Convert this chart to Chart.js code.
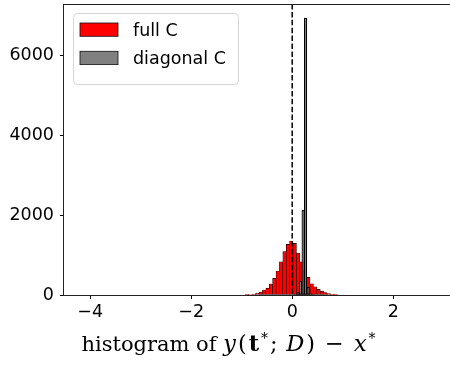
<!DOCTYPE html>
<html>
<head>
<meta charset="utf-8">
<script src="https://cdn.jsdelivr.net/npm/chart.js@4.4.0/dist/chart.umd.min.js"></script>
<style>
html, body { margin: 0; padding: 0; background: #fff; }
#wrap { position: relative; width: 450px; height: 369px; overflow: hidden; }
#myChart { position: absolute; left: 0; top: 0; }
#caption {
    position: absolute; left: 0; top: 331px; width: 459px;
    text-align: center; line-height: 24px; white-space: nowrap;
    font-family: "DejaVu Serif", "Liberation Serif", serif; font-size: 21px; color: #000;
}
#caption .math { font-size: 22.5px; letter-spacing: 2px; }
#caption .op { margin: 0 8px; }
#caption sup { font-size: 14px; vertical-align: 8px; line-height: 0; }
</style>
</head>
<body>
<div id="wrap">
    <canvas id="myChart" width="460" height="369"></canvas>
    <div id="caption">histogram of <span class="math"><i>y</i>(<b>t</b><sup>*</sup>;&#8201;<i>D</i>)<span class="op">&minus;</span><i>x</i><sup>*</sup></span></div>
</div>
<script>
// tick labels
const xTicks = [-4, -2, 0, 2];
const yTicks = [0, 2000, 4000, 6000];
const xRange = [-4.518, 3.164];
const yRange = [0, 7275];
const refValue = 0;

// full C histogram: bin centres and counts
const fullCenters = [-0.892, -0.825, -0.757, -0.690, -0.623, -0.555, -0.488, -0.421, -0.354,
    -0.286, -0.219, -0.152, -0.084, -0.017, 0.050, 0.118, 0.185, 0.252, 0.320, 0.387,
    0.454, 0.522, 0.589, 0.656, 0.724, 0.791, 0.858];
const fullCounts = [5, 12, 25, 45, 75, 125, 170, 275, 415,
    600, 830, 1085, 1265, 1350, 1290, 1050, 830, 620, 440, 280,
    205, 140, 95, 60, 35, 18, 7];

// diagonal C histogram: bin centres and counts
const diagCenters = [0.066, 0.116, 0.166, 0.216, 0.265, 0.315, 0.365, 0.415];
const diagCounts = [10, 60, 350, 2125, 6925, 200, 30, 5];

const toPoints = (xs, ys) => xs.map((x, i) => ({ x: x, y: ys[i] }));
const minusLabel = v => v < 0 ? '\u2212' + Math.abs(v) : String(v);
const noPad = s => { s.paddingTop = 0; s.paddingBottom = 0; s.paddingLeft = 0; s.paddingRight = 0; };

Chart.defaults.font.family = '"DejaVu Sans", sans-serif';
Chart.defaults.color = '#000';

// frame + dashed reference line
const framePlugin = {
    id: 'framePlugin',
    afterDatasetsDraw(chart) {
        const ctx = chart.ctx, a = chart.chartArea;
        const px = chart.scales.x.getPixelForValue(refValue);
        ctx.save();
        ctx.strokeStyle = '#000';
        ctx.lineWidth = 1.5;
        ctx.setLineDash([5.5, 2.4]);
        ctx.beginPath();
        ctx.moveTo(px, a.top);
        ctx.lineTo(px, a.bottom);
        ctx.stroke();
        ctx.setLineDash([]);
        ctx.strokeStyle = '#222';
        ctx.lineWidth = 1;
        ctx.strokeRect(a.left - 0.5, a.top + 0.5, a.right - a.left, a.bottom - a.top);
        ctx.restore();
    }
};

// matplotlib style legend inside the axes
const legendBox = {
    id: 'legendBox',
    afterDraw(chart) {
        const ctx = chart.ctx, a = chart.chartArea;
        const x0 = a.left + 9, y0 = a.top + 9, w = 165, h = 71;
        ctx.save();
        ctx.beginPath();
        ctx.roundRect(x0 + 0.5, y0 + 0.5, w, h, 4);
        ctx.fillStyle = 'rgba(255,255,255,0.8)';
        ctx.fill();
        ctx.strokeStyle = '#d6d6d6';
        ctx.lineWidth = 1;
        ctx.stroke();
        chart.data.datasets.forEach((ds, i) => {
            const py = y0 + 10 + i * 28.3;
            ctx.fillStyle = ds.backgroundColor;
            ctx.fillRect(x0 + 7, py, 38, 13.3);
            ctx.strokeStyle = '#111';
            ctx.lineWidth = 0.8;
            ctx.strokeRect(x0 + 7, py, 38, 13.3);
            ctx.fillStyle = '#000';
            ctx.font = '17.5px "DejaVu Sans"';
            ctx.textBaseline = 'alphabetic';
            ctx.fillText(ds.label, x0 + 60, py + 13);
        });
        ctx.restore();
    }
};

const ctx = document.getElementById('myChart').getContext('2d');
const myChart = new Chart(ctx, {
    type: 'bar',
    data: {
        datasets: [{
            label: 'full C',
            data: toPoints(fullCenters, fullCounts),
            xAxisID: 'x',
            backgroundColor: '#ff0000',
            borderColor: '#000',
            borderWidth: 0.6,
            borderSkipped: false,
            order: 1
        }, {
            label: 'diagonal C',
            data: toPoints(diagCenters, diagCounts),
            xAxisID: 'x2',
            backgroundColor: '#808080',
            borderColor: '#000',
            borderWidth: 1.1,
            borderSkipped: false,
            order: 0
        }]
    },
    options: {
        responsive: false,
        animation: false,
        devicePixelRatio: 1,
        layout: { padding: { top: 4, right: 8, left: 0, bottom: 0 } },
        datasets: {
            bar: { barPercentage: 1, categoryPercentage: 1, grouped: false }
        },
        plugins: {
            legend: { display: false },
            tooltip: { enabled: false }
        },
        scales: {
            x: {
                type: 'linear',
                min: xRange[0],
                max: xRange[1],
                offset: false,
                afterBuildTicks: s => { s.ticks = xTicks.map(v => ({ value: v })); },
                afterFit: s => { s.height = 74; noPad(s); },
                ticks: { callback: minusLabel, font: { size: 17.5 }, padding: 3, maxRotation: 0, autoSkip: false },
                grid: { offset: false, drawOnChartArea: false, drawTicks: true, tickLength: 4, color: '#000' },
                border: { display: false }
            },
            x2: {
                type: 'linear',
                min: xRange[0],
                max: xRange[1],
                offset: false,
                display: false
            },
            y: {
                min: yRange[0],
                max: yRange[1],
                afterBuildTicks: s => { s.ticks = yTicks.map(v => ({ value: v })); },
                afterFit: s => { s.width = 64; noPad(s); },
                ticks: { callback: v => String(v), font: { size: 17.5 }, padding: 6 },
                grid: { drawOnChartArea: false, drawTicks: true, tickLength: 4, color: '#000' },
                border: { display: false }
            }
        }
    },
    plugins: [framePlugin, legendBox]
});
</script>
</body>
</html>
